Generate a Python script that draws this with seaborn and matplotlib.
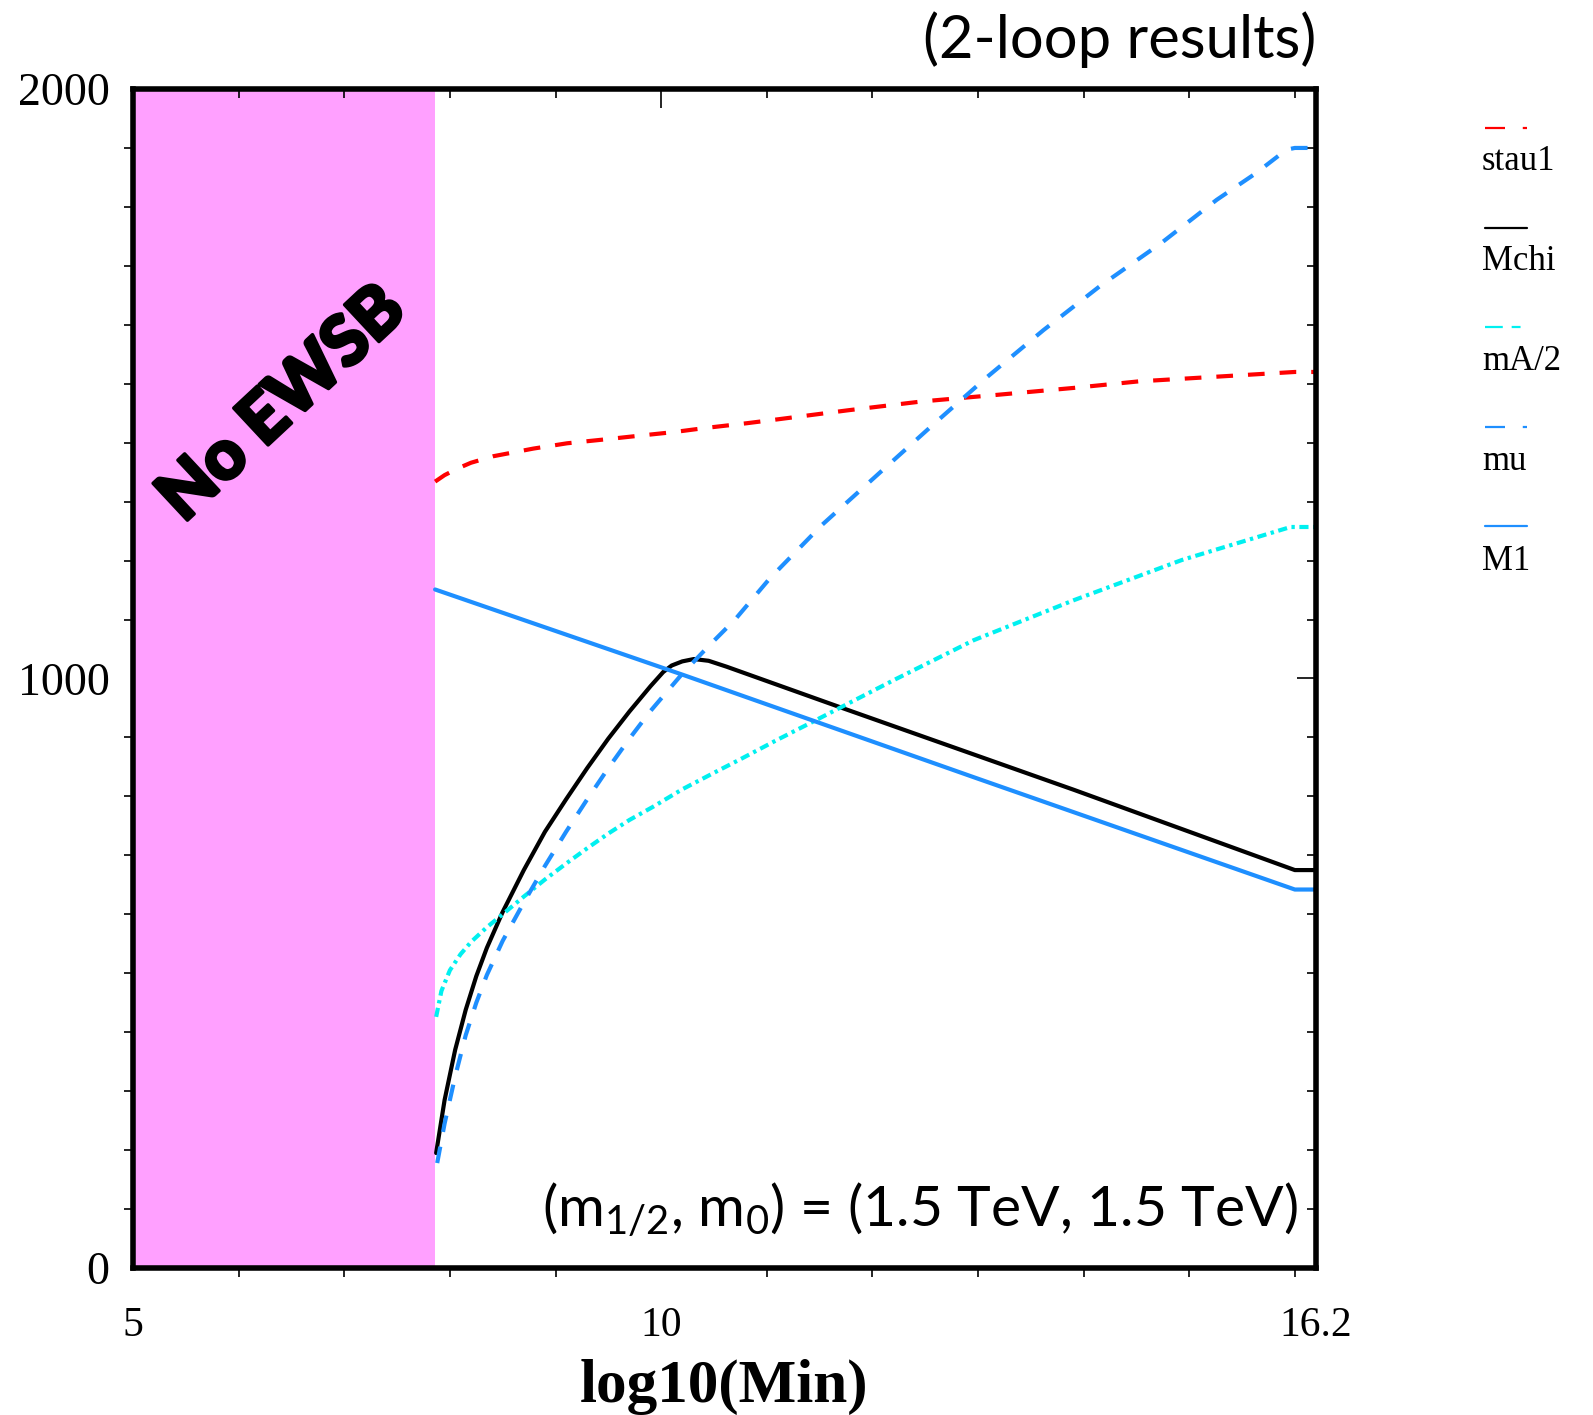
import matplotlib
matplotlib.use("Agg")
import matplotlib.pyplot as plt
from matplotlib.lines import Line2D
import matplotlib.patheffects as pe
import seaborn as sns
import pandas as pd

# ---- data: sparticle mass parameters vs log10(Min) ----
stau_x = [7.86, 7.95, 8.07, 8.20, 8.41, 8.79, 9.11, 9.49, 9.80, 10.12, 10.42, 10.81, 11.12,
          11.77, 12.47, 13.17, 13.91, 14.52, 15.26, 16.0, 16.2]
stau_y = [1334, 1345, 1356, 1366, 1377, 1390, 1399, 1406, 1412, 1418, 1425, 1433, 1440,
          1455, 1470, 1481, 1493, 1504, 1512, 1520, 1520]

mchi_x = [7.87, 7.95, 8.05, 8.15, 8.25, 8.35, 8.50, 8.70, 8.90, 9.10, 9.30, 9.50, 9.70,
          9.90, 10.02, 10.10, 10.20, 10.31, 10.45, 10.62, 11.73, 13.91, 16.0, 16.2]
mchi_y = [195, 285, 370, 438, 495, 543, 604, 675, 740, 795, 848, 898, 944,
          987, 1011, 1022, 1029, 1033, 1030, 1020, 949, 811, 675, 675]

ma2_x = [7.87, 7.92, 8.00, 8.10, 8.20, 8.35, 8.50, 8.70, 8.90, 9.10, 9.30, 9.50, 9.70,
         9.92, 10.20, 10.50, 10.75, 11.10, 11.44, 12.20, 12.96, 13.91, 14.93, 15.96, 16.2]
ma2_y = [426, 470, 505, 532, 553, 578, 600, 630, 659, 686, 712, 737, 760,
         782, 812, 840, 863, 896, 927, 997, 1065, 1133, 1201, 1257, 1257]

mu_x = [7.88, 7.95, 8.05, 8.15, 8.25, 8.35, 8.50, 8.70, 8.90, 9.10, 9.30, 9.50, 9.70,
        9.90, 10.20, 10.45, 10.70, 11.03, 11.52, 12.10, 12.59, 13.09, 13.62, 14.15,
        14.73, 15.26, 15.63, 15.92, 16.0, 16.2]
mu_y = [178, 245, 325, 395, 450, 497, 555, 620, 682, 740, 795, 848, 898,
        945, 1008, 1055, 1100, 1170, 1260, 1354, 1433, 1512, 1591, 1665,
        1738, 1812, 1857, 1897, 1900, 1900]

m1_x = [7.86, 10.21, 13.0, 16.0, 16.2]
m1_y = [1151, 1006, 830, 642, 642]

series_names = ["stau1", "Mchi", "mA/2", "mu", "M1"]
series_data = [(stau_x, stau_y), (mchi_x, mchi_y), (ma2_x, ma2_y), (mu_x, mu_y), (m1_x, m1_y)]

no_ewsb_edge = 7.86
x_ticks = [5, 10, 16.2]
x_ticklabels = ["5", "10", "16.2"]
y_ticks = [0, 1000, 2000]
y_ticklabels = ["0", "1000", "2000"]

# ---- styling ----
sns.set_theme(style="white")
plt.rcParams["font.family"] = ["Liberation Serif", "DejaVu Serif"]
plt.rcParams["text.color"] = "black"
plt.rcParams["axes.labelcolor"] = "black"
plt.rcParams["xtick.color"] = "black"
plt.rcParams["ytick.color"] = "black"
plt.rcParams["mathtext.fontset"] = "custom"
plt.rcParams["mathtext.rm"] = "Lato"
plt.rcParams["mathtext.it"] = "Lato"

colors = {"stau1": "#ff0000", "Mchi": "#000000", "mA/2": "#00f0f0",
          "mu": "#1e8fff", "M1": "#1e8fff"}
dashes = {"stau1": (4.0, 3.6), "Mchi": "", "mA/2": (2.2, 1.1, 0.8, 1.1),
          "mu": (4.0, 3.6), "M1": ""}

rows = []
for name, (xs, ys) in zip(series_names, series_data):
    for xv, yv in zip(xs, ys):
        rows.append({"logMin": xv, "mass": yv, "series": name})
df = pd.DataFrame(rows)

fig = plt.figure(figsize=(15.93, 14.15), dpi=100)
ax = fig.add_axes([0.0835, 0.1039, 0.7426, 0.8332])

ax.axvspan(5, no_ewsb_edge, color="#ffa0ff", lw=0, zorder=0)

sns.lineplot(data=df, x="logMin", y="mass", hue="series", style="series",
             hue_order=series_names, style_order=series_names,
             palette=colors, dashes=dashes, estimator=None, sort=True,
             linewidth=3.0, legend=False, ax=ax)

ax.set_xlim(5, 16.2)
ax.set_ylim(0, 2000)

ax.set_xticks(x_ticks)
ax.set_xticklabels(x_ticklabels)
ax.set_xticks(range(6, 17), minor=True)
ax.set_yticks(y_ticks)
ax.set_yticklabels(y_ticklabels)
ax.set_yticks(range(100, 2000, 100), minor=True)

ax.tick_params(axis="both", which="major", direction="out", length=14, width=1.2,
               colors="black")
ax.tick_params(axis="both", which="minor", direction="out", length=6.5, width=1.2,
               colors="black", bottom=True, left=True)
ax.tick_params(axis="x", which="major", pad=14, labelsize=30)
ax.tick_params(axis="y", which="major", pad=3, labelsize=33)

# inward ticks on the top and right edges
top = ax.secondary_xaxis("top")
top.set_xticks(x_ticks)
top.set_xticks(range(6, 17), minor=True)
top.tick_params(which="major", direction="in", length=14, width=1.2, labeltop=False)
top.tick_params(which="minor", direction="in", length=6.5, width=1.2)
top.spines["top"].set_visible(False)
right = ax.secondary_yaxis("right")
right.set_yticks(y_ticks)
right.set_yticks(range(100, 2000, 100), minor=True)
right.tick_params(which="major", direction="in", length=14, width=1.2, labelright=False)
right.tick_params(which="minor", direction="in", length=6.5, width=1.2)
right.spines["right"].set_visible(False)

for sp in ax.spines.values():
    sp.set_visible(True)
    sp.set_linewidth(4)
    sp.set_color("black")

ax.set_xlabel("log10(Min)", fontsize=44, fontweight="bold", labelpad=10, color="black")
ax.set_ylabel("")

# region label
ax.text(6.42, 1465, "No EWSB", rotation=43, ha="center", va="center",
        fontsize=50, fontweight="black", family=["Lato", "DejaVu Sans"], color="black",
        path_effects=[pe.withStroke(linewidth=2.5, foreground="black")])

# parameter annotation
ax.text(0.985, 0.035, r"(m$_{1/2}$, m$_0$) = (1.5 TeV, 1.5 TeV)",
        transform=ax.transAxes, ha="right", va="baseline",
        fontsize=41, family=["Lato", "DejaVu Sans"], color="black")

# heading
fig.text(1316 / 1593, 1 - 58 / 1415, "(2-loop results)", ha="right", va="baseline",
         fontsize=43, family=["Lato", "DejaVu Sans"], color="black")

# legend: short line sample above each label
leg_dashes = {"stau1": (0, (9, 8, 2, 8)), "Mchi": "-", "mA/2": (0, (8, 4, 4, 4, 4, 4)),
              "mu": (0, (9, 8, 2, 8)), "M1": "-"}
leg_x0, leg_x1 = 1485 / 1593, 1527 / 1593
for i, name in enumerate(series_names):
    y_line = 1 - (128 + i * 99.5) / 1415
    y_text = 1 - (161 + i * 100) / 1415
    fig.add_artist(Line2D([leg_x0, leg_x1], [y_line, y_line], transform=fig.transFigure,
                          color=colors[name], lw=1.6, linestyle=leg_dashes[name]))
    fig.text(1482 / 1593, y_text, name, ha="left", va="center", fontsize=25, color="black")

fig.savefig("out.png", dpi=100)
